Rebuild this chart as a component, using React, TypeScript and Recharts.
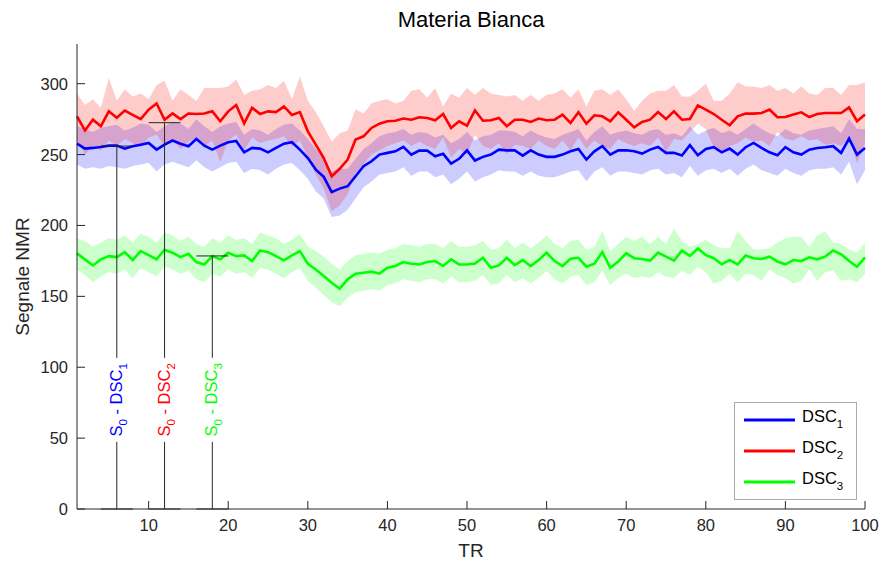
import React from 'react';
import { ComposedChart, Line, Area, XAxis, YAxis, ReferenceLine, ReferenceDot, Legend } from 'recharts';

const TR = Array.from({ length: 100 }, (_, i) => i + 1);

const DSC1 = [257.7, 254.2, 254.7, 255.4, 256.3, 256.3, 254.2, 255.9, 257.0, 258.2,
  253.5, 257.0, 259.9, 257.7, 255.9, 261.0, 256.3, 253.5, 256.3, 258.7,
  259.6, 251.6, 254.7, 254.2, 251.6, 254.7, 257.7, 258.7, 253.5, 247.6,
  239.4, 234.3, 223.5, 226.0, 227.7, 234.7, 241.8, 245.3, 250.0, 251.2,
  252.3, 255.4, 250.0, 252.8, 252.8, 248.8, 250.5, 243.7, 247.0, 253.0,
  245.8, 248.4, 250.0, 253.5, 253.0, 253.0, 249.3, 253.0, 250.0, 248.4,
  248.4, 250.0, 252.3, 254.0, 246.5, 252.3, 255.9, 250.0, 253.0, 253.0,
  252.3, 250.7, 253.5, 255.4, 251.2, 251.2, 249.3, 256.6, 249.5, 254.0,
  255.2, 251.6, 254.2, 250.0, 255.2, 258.2, 254.7, 251.6, 249.5, 255.2,
  251.6, 250.0, 253.5, 254.7, 255.2, 255.9, 251.2, 261.3, 250.0, 254.7];
const DSC1_HI = [270, 268, 266, 269, 270, 271, 267, 269, 272, 271,
  266, 270, 273, 272, 268, 275, 270, 266, 270, 272,
  273, 264, 268, 267, 264, 268, 271, 272, 267, 261,
  254, 248, 238, 240, 240, 247, 254, 258, 263, 265,
  266, 268, 264, 266, 265, 262, 264, 258, 261, 266,
  260, 263, 264, 267, 267, 266, 263, 267, 264, 262,
  261, 264, 266, 268, 260, 266, 270, 264, 266, 267,
  265, 264, 267, 268, 264, 265, 263, 270, 264, 267,
  269, 265, 267, 264, 268, 272, 268, 265, 263, 268,
  265, 264, 267, 268, 269, 270, 265, 275, 268, 268];
const DSC1_LO = [243, 240, 241, 240, 242, 241, 240, 242, 243, 244,
  238, 243, 245, 243, 241, 246, 241, 238, 241, 244,
  245, 237, 240, 239, 236, 240, 243, 244, 239, 233,
  224, 219, 206, 207, 211, 219, 227, 231, 236, 237,
  238, 241, 235, 238, 238, 234, 236, 229, 233, 238,
  231, 234, 236, 239, 238, 238, 235, 238, 235, 234,
  234, 236, 238, 239, 231, 238, 241, 235, 238, 238,
  237, 236, 239, 240, 236, 237, 234, 242, 235, 239,
  240, 237, 240, 235, 240, 243, 239, 237, 235, 240,
  237, 235, 239, 240, 240, 241, 236, 245, 229, 239];

const DSC2 = [277, 267, 274.6, 270, 280.5, 276, 281, 278, 275, 281.7,
  286, 274.6, 279, 275, 279, 278.6, 279, 280.5, 273.5, 280.5,
  285, 272, 283, 278.6, 280.5, 280, 284, 278, 280, 266.4,
  257, 247.6, 234.7, 240, 246.5, 260.6, 262.9, 268.8, 271.8, 273.5,
  273.9, 275.4, 274.6, 276.3, 275.8, 274.2, 278.6, 268.8, 273.5, 270.4,
  281.2, 273.9, 274.2, 275.8, 270, 274.6, 274.6, 273, 275.4, 274.2,
  274.6, 278.2, 272.3, 279.8, 271.8, 277.7, 277, 273.5, 279.8, 274.6,
  269.2, 273, 274.6, 280, 275.1, 280.5, 274.6, 275.1, 284.7, 281.7,
  278.6, 274.6, 270.7, 277, 278.9, 278.9, 279.3, 281.7, 276.3, 276.5,
  278.2, 279.8, 276.5, 278.6, 279.3, 279.3, 279.3, 283.3, 273.5, 278.2];
const DSC2_HI = [293, 285, 289, 283, 304, 288, 296, 291, 293, 289,
  299, 302, 288, 296, 292, 288, 297, 297, 297, 298,
  303, 292, 295, 296, 299, 297, 302, 289, 305, 288,
  280, 270, 259, 265, 267, 282, 279, 286, 288, 289,
  286, 288, 295, 296, 290, 297, 284, 293, 290, 297,
  292, 297, 293, 292, 291, 292, 288, 292, 288, 292,
  293, 296, 290, 296, 284, 295, 296, 292, 296, 289,
  281, 288, 293, 295, 295, 299, 291, 291, 295, 300,
  288, 288, 293, 301, 298, 298, 297, 299, 295, 297,
  293, 298, 293, 292, 297, 297, 292, 299, 299, 301];
const DSC2_LO = [260, 250, 256, 253, 260, 256, 261, 258, 255, 262,
  264, 256, 260, 254, 259, 261, 256, 260, 245, 260,
  264, 253, 262, 258, 260, 261, 263, 256, 260, 248,
  236, 226, 210, 214, 222, 237, 243, 250, 253, 256,
  258, 260, 256, 259, 256, 254, 262, 248, 254, 250,
  264, 256, 254, 258, 250, 257, 256, 254, 260, 256,
  254, 260, 253, 262, 254, 260, 256, 254, 261, 258,
  256, 258, 256, 262, 252, 261, 260, 266, 272, 268,
  255, 251, 256, 258, 262, 259, 260, 256, 266, 261,
  260, 263, 260, 261, 257, 258, 256, 262, 244, 258];

const DSC3 = [180.3, 176.1, 171.8, 176.1, 178.4, 177.7, 181.2, 175.6, 181.9, 179.1,
  176.1, 182.9, 180.8, 177.7, 180, 174.2, 172.5, 178.4, 176.1, 180.8,
  178.4, 178.9, 174.9, 182.4, 181.2, 178.4, 175.4, 178.9, 181.9, 173,
  169, 164.3, 159.6, 155.4, 162, 166, 166.7, 167.4, 166, 170.2,
  171.4, 174.2, 173, 172.5, 174.2, 174.9, 171.4, 176.1, 172.5, 172.5,
  173.2, 177.2, 170.2, 171.8, 177.2, 172, 175.6, 171.4, 175.6, 180.8,
  174.9, 171.4, 176.5, 177.2, 170.9, 173, 181.2, 170.2, 174.6, 180.4,
  176.9, 176.4, 175.2, 180.8, 178, 175.2, 182.3, 178.5, 183.8, 179.1,
  176.9, 172.6, 175.6, 172.6, 178.8, 176.9, 176.4, 178, 174.6, 172.6,
  175.6, 174.9, 177.5, 176.1, 178, 182.3, 179.7, 174.9, 170.9, 177.5];
const DSC3_HI = [191, 189, 185, 188, 191, 190, 193, 188, 194, 192,
  188, 195, 193, 189, 192, 187, 185, 191, 188, 193,
  190, 191, 187, 195, 193, 191, 187, 190, 194, 185,
  182, 178, 173, 169, 175, 179, 180, 181, 180, 183,
  184, 187, 186, 185, 187, 187, 184, 189, 185, 185,
  186, 189, 183, 184, 190, 184, 188, 184, 188, 193,
  187, 184, 189, 190, 183, 185, 196, 182, 187, 192,
  189, 192, 187, 192, 187, 198, 189, 185, 187, 190,
  186, 184, 184, 196, 189, 183, 183, 184, 188, 191,
  192, 192, 185, 193, 196, 188, 187, 183, 181, 188];
const DSC3_LO = [169, 165, 160, 164, 167, 166, 169, 163, 170, 167,
  164, 171, 169, 166, 168, 162, 160, 166, 164, 169,
  166, 167, 163, 170, 169, 166, 163, 167, 170, 161,
  156, 151, 146, 143, 149, 153, 154, 155, 154, 158,
  159, 162, 161, 160, 162, 162, 159, 164, 160, 160,
  161, 165, 158, 159, 165, 160, 163, 159, 163, 168,
  162, 159, 164, 165, 158, 160, 168, 158, 163, 166,
  163, 164, 163, 167, 164, 163, 168, 165, 171, 167,
  159, 161, 166, 160, 166, 165, 161, 169, 165, 163,
  159, 161, 169, 161, 167, 168, 161, 162, 160, 166];

const S0_TR = [6, 12, 18];
const S0_VAL = [256, 272.5, 178.5];
const S0_LABEL_Y = 77;
const CAP_HALF = 2;
const X_TICKS = [10, 20, 30, 40, 50, 60, 70, 80, 90, 100];
const Y_TICKS = [0, 50, 100, 150, 200, 250, 300];
const SUBS = ['1', '2', '3'];
const COLORS = ['#0000ff', '#ff0000', '#00ff00'];

const FONT = '"Liberation Sans", Arial, Helvetica, sans-serif';
const AX = '#262626';

const data = TR.map((t, i) => ({
  tr: t,
  m1: DSC1[i], b1: [DSC1_LO[i], DSC1_HI[i]],
  m2: DSC2[i], b2: [DSC2_LO[i], DSC2_HI[i]],
  m3: DSC3[i], b3: [DSC3_LO[i], DSC3_HI[i]],
}));

const XTick = (props: any) => {
  const { x, y, payload } = props;
  return (
    <g>
      <line x1={x} x2={x} y1={y} y2={y - 8} stroke={AX} strokeWidth={1} />
      <text x={x} y={y + 16} textAnchor="middle" dominantBaseline="central" fontSize={16.5} fill={AX} fontFamily={FONT}>{payload.value}</text>
    </g>
  );
};

const YTick = (props: any) => {
  const { x, y, payload } = props;
  return (
    <g>
      <line x1={x} x2={x + 8} y1={y} y2={y} stroke={AX} strokeWidth={1} />
      <text x={x - 9} y={y} textAnchor="end" dominantBaseline="central" fontSize={16.5} fill={AX} fontFamily={FONT}>{payload.value}</text>
    </g>
  );
};

const LegendBox = () => (
  <div style={{ width: 123, height: 98, boxSizing: 'border-box', border: '1px solid #aaaaaa', background: '#fff' }}>
    <svg width={121} height={96} style={{ display: 'block' }}>
      {SUBS.map((s, i) => (
        <g key={s}>
          <line x1={9} x2={60} y1={17 + i * 31} y2={17 + i * 31} stroke={COLORS[i]} strokeWidth={3} />
          <text x={67} y={19 + i * 31} fontSize={16.5} fill="#000" fontFamily={FONT}>
            DSC<tspan dy={6} fontSize={11.5}>{s}</tspan>
          </text>
        </g>
      ))}
    </svg>
  </div>
);

const makeLabelShape = (i: number) => (p: any) => {
  const { cx, cy } = p;
  return (
    <g>
      <rect x={cx - 12} y={cy - 42} width={24} height={84} fill="#fff" />
      <text transform={`rotate(-90 ${cx} ${cy})`} x={cx} y={cy + 5} textAnchor="middle" fill={COLORS[i]} fontSize={16.5} fontFamily={FONT}>
        S<tspan dy={5} fontSize={11.5}>0</tspan><tspan dy={-5}> - DSC</tspan><tspan dy={5} fontSize={11.5}>{SUBS[i]}</tspan>
      </text>
    </g>
  );
};

export default function App() {
  return (
    <div style={{ position: 'absolute', left: 0, top: 0, width: 884, height: 563, background: '#fff', fontFamily: FONT }}>
      <div style={{ position: 'absolute', left: 77, width: 788, top: 8, textAlign: 'center', fontSize: 22, color: '#000', lineHeight: '24px' }}>
        Materia Bianca
      </div>
      <ComposedChart width={884} height={563} data={data} margin={{ top: 44, right: 19, bottom: 14, left: 0 }}>
        <XAxis
          dataKey="tr" type="number" domain={[1, 100]} ticks={X_TICKS} interval={0}
          height={40} tickSize={0} tickMargin={0} tickLine={false} tick={<XTick />}
          axisLine={{ stroke: AX, strokeWidth: 1 }}
          label={{ content: (p: any) => (
            <text x={p.viewBox.x + p.viewBox.width / 2} y={p.viewBox.y + 41} textAnchor="middle" dominantBaseline="central" fontSize={19} fill={AX} fontFamily={FONT}>TR</text>
          ) }}
        />
        <YAxis
          type="number" domain={[0, 328]} ticks={Y_TICKS} interval={0} allowDataOverflow
          width={77} tickSize={0} tickMargin={0} tickLine={false} tick={<YTick />}
          axisLine={{ stroke: AX, strokeWidth: 1 }}
          label={{ content: (p: any) => {
            const x = p.viewBox.x + 22;
            const y = p.viewBox.y + p.viewBox.height / 2;
            return <text transform={`rotate(-90 ${x} ${y})`} x={x} y={y} textAnchor="middle" dominantBaseline="central" fontSize={19} fill={AX} fontFamily={FONT}>Segnale NMR</text>;
          } }}
        />
        <Area dataKey="b1" type="linear" stroke="none" fill={COLORS[0]} fillOpacity={0.2} isAnimationActive={false} dot={false} activeDot={false} />
        <Line dataKey="m1" type="linear" stroke={COLORS[0]} strokeWidth={2.6} dot={false} activeDot={false} isAnimationActive={false} />
        <Area dataKey="b2" type="linear" stroke="none" fill={COLORS[1]} fillOpacity={0.2} isAnimationActive={false} dot={false} activeDot={false} />
        <Line dataKey="m2" type="linear" stroke={COLORS[1]} strokeWidth={2.6} dot={false} activeDot={false} isAnimationActive={false} />
        <Area dataKey="b3" type="linear" stroke="none" fill={COLORS[2]} fillOpacity={0.2} isAnimationActive={false} dot={false} activeDot={false} />
        <Line dataKey="m3" type="linear" stroke={COLORS[2]} strokeWidth={2.6} dot={false} activeDot={false} isAnimationActive={false} />
        {S0_TR.map((t, i) => (
          <ReferenceLine key={'v' + i} segment={[{ x: t, y: 0 }, { x: t, y: S0_VAL[i] }]} stroke={AX} strokeWidth={1} />
        ))}
        {S0_TR.map((t, i) => (
          <ReferenceLine key={'t' + i} segment={[{ x: t - CAP_HALF, y: S0_VAL[i] }, { x: t + CAP_HALF, y: S0_VAL[i] }]} stroke={AX} strokeWidth={1} />
        ))}
        {S0_TR.map((t, i) => (
          <ReferenceLine key={'b' + i} segment={[{ x: t - CAP_HALF, y: 0 }, { x: t + CAP_HALF, y: 0 }]} stroke={AX} strokeWidth={1} />
        ))}
        {S0_TR.map((t, i) => (
          <ReferenceDot key={'l' + i} x={t} y={S0_LABEL_Y} r={0} shape={makeLabelShape(i)} />
        ))}
        <Legend
          layout="horizontal" verticalAlign="middle" align="center"
          content={() => <LegendBox />}
          wrapperStyle={{ left: 734, top: 402, width: 123, height: 98 }}
        />
      </ComposedChart>
    </div>
  );
}
